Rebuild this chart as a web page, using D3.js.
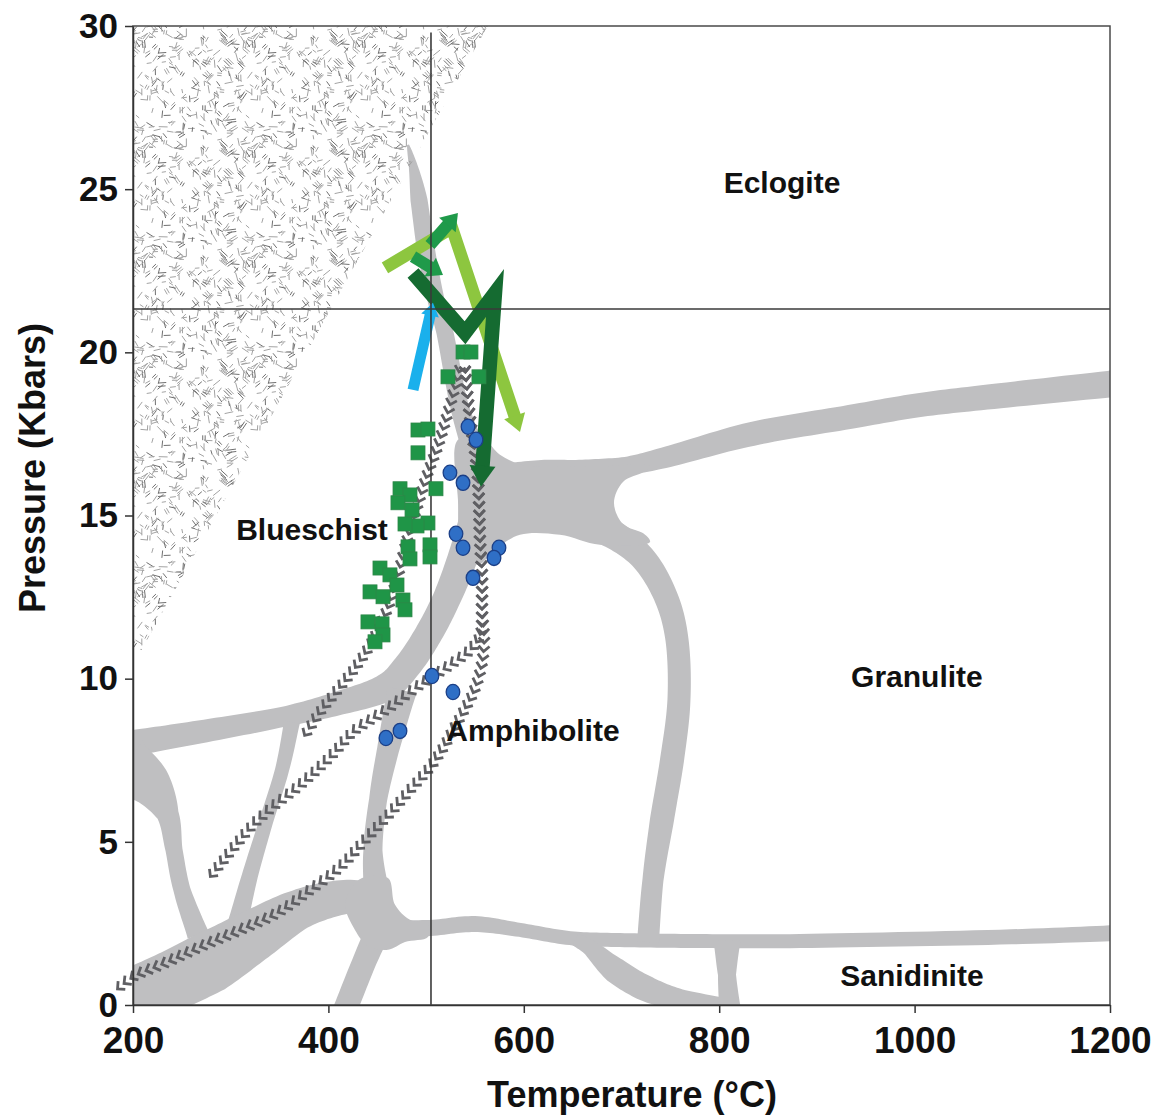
<!DOCTYPE html>
<html>
<head>
<meta charset="utf-8">
<script src="https://cdn.jsdelivr.net/npm/d3@7"></script>
<style>
  body { margin: 0; background: #fff; }
  svg text { font-family: "Liberation Sans", Arial, sans-serif; font-weight: bold; fill: #111; }
</style>
</head>
<body>
<script>
// ------------------------------ DATA ------------------------------ //
const tempTicks = [200, 400, 600, 800, 1000, 1200];
const pressTicks = [0, 5, 10, 15, 20, 25, 30];

// facies boundary bands, centre lines as [T (°C), P (kbar)]
const bandA = [[481.5, 26.36], [487.6, 25.59], [492.7, 24.67], [499.9, 23.14], [510.1, 21.61],
  [519.3, 20.6], [532.6, 18.54], [544.9, 17.32], [555.2, 16.40]];
const bandD = [[553.1, 15.17], [536.7, 13.64], [520.4, 12.41], [501.9, 11.34], [481.5, 10.42],
  [457.9, 9.72], [411.9, 9.26], [353.5, 8.83], [268.6, 8.37], [200, 8.03], [186.7, 7.97]];
const bandLeftArm = [[191.8, 7.26], [217.4, 6.74], [235.8, 5.82], [242.0, 4.75], [250.2, 3.52], [266.6, 2.15]];
const bandRightArm = [[362.7, 8.67], [352.5, 7.20], [336.1, 5.61], [319.8, 3.98], [307.5, 2.54]];
const bandGreenschist = [[475.3, 9.65], [461.0, 7.82], [450.8, 6.28], [445.6, 4.75], [449.0, 3.50]];
const bandLowLeft = [[176.5, 0.0], [227.6, 0.58], [278.8, 1.32], [324.9, 2.15], [370.9, 2.94], [417.0, 3.31], [452.8, 3.22]];
const bandLowDown = [[457.9, 2.76], [437.5, 1.38], [417.0, -0.15]];
const bandLowFlat = [[452.8, 2.30], [504.0, 2.36], [550.0, 2.48], [596.1, 2.30], [647.3, 2.05], [698.4, 1.99],
  [780.3, 1.96], [882.7, 1.96], [1087.4, 2.08], [1210.2, 2.21]];
const bandLens = [[652.4, 2.0], [667.7, 1.75], [693.3, 1.07], [724.0, 0.52], [759.9, 0.15], [811.0, -0.15]];
const bandSanidinite = [[808.0, 1.99], [808.0, 0.92], [811.0, -0.15]];
const bandUpperRight = [[575.6, 16.03], [616.6, 16.27], [657.5, 16.37], [704.6, 16.52], [747.6, 16.80],
  [833.6, 17.50], [933.9, 18.02], [1006.5, 18.39], [1087.4, 18.67], [1210.2, 19.06]];
const bandLoop = [[580.7, 15.33], [626.8, 15.02], [678.0, 14.62], [718.9, 13.79], [744.5, 12.57], [756.8, 11.19],
  [758.8, 9.35], [751.7, 7.51], [741.4, 5.67], [732.2, 3.83], [727.1, 1.93]];
// junction areas where several boundaries meet
const junctionUpper = [[532.6, 17.32], [559.3, 17.32], [575.6, 16.86], [598.1, 16.55], [637.0, 16.49], [675.0, 16.50],
  [729.2, 16.52], [723.0, 16.34], [701.5, 16.03], [692.3, 15.39], [701.5, 14.74], [723.0, 14.44], [729.2, 14.19],
  [678.0, 14.10], [637.0, 14.41], [596.1, 14.41], [570.5, 13.95], [553.1, 13.49], [536.7, 13.95], [532.6, 15.48]];
const junctionLower = [[434.4, 3.89], [461.0, 3.89], [468.2, 3.07], [483.5, 2.61], [501.9, 2.48], [501.9, 2.08],
  [478.4, 1.93], [461.0, 1.69], [440.5, 1.81], [427.2, 2.30], [417.0, 3.07], [424.1, 3.59]];

// "not realized on earth" wedge
const forbiddenZone = [[200, 30], [563, 30], [200, 10.4]];
const refT = 505, refP = 21.33;

// retrograde chevron trails
const trail1 = [[534.7, 19.52], [524.5, 18.39], [512.2, 17.16], [500.9, 16.24], [490.7, 15.26], [480.4, 14.25],
  [471.2, 13.18], [461.0, 12.20], [445.6, 11.19], [429.3, 10.42], [411.9, 9.75], [391.4, 8.98], [374.0, 8.18]];
const trailTop = [[539.8, 19.52], [542.9, 18.54], [547.0, 17.53], [552.1, 16.49], [554.1, 15.48], [555.2, 14.25],
  [557.2, 13.24], [557.2, 12.20]];
const trail2 = trailTop.concat([[555.2, 11.34], [544.9, 10.88], [524.5, 10.42], [504.0, 10.02], [483.5, 9.59],
  [463.0, 9.13], [442.6, 8.73], [425.2, 8.37], [401.6, 7.60], [370.9, 6.74], [345.3, 6.13], [322.8, 5.52],
  [299.3, 4.69], [278.8, 3.92]]);
const trail3 = trailTop.concat([[559.3, 11.03], [555.2, 10.21], [548.0, 9.56], [537.8, 8.98], [527.5, 8.43],
  [517.3, 7.88], [504.0, 7.29], [483.5, 6.59], [463.0, 5.88], [437.5, 5.06], [411.9, 4.23], [381.2, 3.52],
  [347.4, 2.82], [309.5, 2.30], [268.6, 1.78], [232.8, 1.29], [200, 0.86], [179.5, 0.37]]);

// samples
const blueschistSamples = [[537.8, 20.01], [545.9, 20.01], [522.4, 19.25], [554.1, 19.25], [491.7, 17.62],
  [501.9, 17.65], [491.7, 16.92], [473.3, 15.82], [483.5, 15.63], [471.2, 15.39], [510.1, 15.82], [485.6, 15.17],
  [501.9, 14.77], [490.7, 14.68], [478.4, 14.74], [504.0, 14.10], [504.0, 13.73], [481.5, 14.04], [483.5, 13.67],
  [452.8, 13.39], [463.0, 13.18], [470.2, 12.87], [442.6, 12.66], [455.9, 12.51], [476.3, 12.41], [478.4, 12.11],
  [440.5, 11.74], [454.9, 11.68], [455.9, 11.34], [447.7, 11.13]];
const eclogiteSamples = [[542.9, 17.72], [551.1, 17.32], [524.4, 16.31], [537.8, 16.0], [530.6, 14.44],
  [537.8, 14.01], [574.6, 14.01], [569.5, 13.70], [548.0, 13.09], [506.0, 10.08], [527.5, 9.59],
  [473.3, 8.40], [458.9, 8.18]];

// P-T paths
const pathLight = [[457.9, 22.59], [526.5, 23.81], [596.1, 17.56]];
const pathMediumA = [[504.0, 23.29], [532.6, 24.27]];
const pathMediumB = [[486.6, 22.93], [517.3, 22.37]];
const pathDark = [[486.6, 22.43], [539.8, 20.60], [570.5, 21.82], [556.2, 15.88]];
const pathBlue = [[486.6, 18.85], [507.0, 21.52]];

// field names
const fieldNames = ["Eclogite", "Blueschist", "Granulite", "Amphibolite", "Sanidinite"];
const fieldT = [864.3, 383.2, 1002.4, 609.4, 997.3];
const fieldP = [24.89, 14.25, 9.75, 8.09, 0.58];

// --------------------------- PREPARATION --------------------------- //
const W = 1160, H = 1118;
const margin = { top: 26, right: 50, bottom: 113, left: 133 };

const x = d3.scaleLinear().domain([200, 1200]).range([margin.left, W - margin.right]);
const y = d3.scaleLinear().domain([0, 30]).range([H - margin.bottom, margin.top]);

const bandColor = "#bfbfc1";
// band widths in px, one per centre point
const bandStyle = [
  [bandA, [2, 10, 17, 18, 17, 17, 18, 22, 28]],
  [bandD, [32, 30, 28, 28, 28, 28, 24, 20, 23, 26, 26]],
  [bandLeftArm, [66, 44, 22, 17, 17, 22]],
  [bandRightArm, [16, 14, 14, 16, 20]],
  [bandGreenschist, [30, 22, 18, 19, 26]],
  [bandLowLeft, [56, 60, 62, 52, 40, 34, 32]],
  [bandLowDown, [26, 24, 24]],
  [bandLowFlat, [20, 16, 16, 14, 14, 14, 14, 14, 15, 16]],
  [bandLens, [12, 16, 26, 26, 22, 22]],
  [bandSanidinite, [28, 18, 22]],
  [bandUpperRight, [36, 28, 22, 18, 21, 24, 24, 24, 25, 27]],
  [bandLoop, [34, 30, 30, 26, 24, 23, 23, 24, 24, 21, 22]]
];

const svg = d3.select("body").append("svg")
  .attr("width", W)
  .attr("height", H)
  .style("display", "block");

const defs = svg.append("defs");
defs.append("clipPath").attr("id", "plotClip")
  .append("rect")
  .attr("x", x(200)).attr("y", y(30))
  .attr("width", x(1200) - x(200)).attr("height", y(0) - y(30));

// texture of short scattered dashes for the wedge
const tile = 110;
const pat = defs.append("pattern").attr("id", "dashes")
  .attr("patternUnits", "userSpaceOnUse").attr("width", tile).attr("height", tile);
let seed = 23;
const rnd = () => (seed = (seed * 16807) % 2147483647) / 2147483647;
for (let i = 0; i < 250; i++) {
  const cx = rnd() * tile, cy = rnd() * tile;
  const a = Math.floor(rnd() * 4) * Math.PI / 4 + (rnd() - 0.5) * 0.6;
  const l = 4 + rnd() * 5, pair = rnd() < 0.25;
  const col = rnd() < 0.35 ? "#6e6e6e" : "#a2a2a2";
  for (let k = 0; k < (pair ? 2 : 1); k++) {
    const ox = k * 2.4 * -Math.sin(a), oy = k * 2.4 * Math.cos(a);
    [[0, 0], [tile, 0], [-tile, 0], [0, tile], [0, -tile]].forEach(([sx, sy]) => {
      pat.append("line")
        .attr("x1", cx + ox + sx - Math.cos(a) * l / 2).attr("y1", cy + oy + sy - Math.sin(a) * l / 2)
        .attr("x2", cx + ox + sx + Math.cos(a) * l / 2).attr("y2", cy + oy + sy + Math.sin(a) * l / 2)
        .attr("stroke", col)
        .attr("stroke-width", 1);
    });
  }
}

// variable width ribbon along a catmull-rom centre line
function ribbon(pts, ws) {
  const P = pts.map(d => [x(d[0]), y(d[1])]);
  const n = P.length, samp = [], sw = [];
  for (let i = 0; i < n - 1; i++) {
    const p0 = P[Math.max(0, i - 1)], p1 = P[i], p2 = P[i + 1], p3 = P[Math.min(n - 1, i + 2)];
    for (let k = 0; k < 14; k++) {
      const t = k / 14, t2 = t * t, t3 = t2 * t;
      const f = j => 0.5 * (2 * p1[j] + (-p0[j] + p2[j]) * t + (2 * p0[j] - 5 * p1[j] + 4 * p2[j] - p3[j]) * t2
        + (-p0[j] + 3 * p1[j] - 3 * p2[j] + p3[j]) * t3);
      samp.push([f(0), f(1)]);
      sw.push(ws[i] + (ws[i + 1] - ws[i]) * t);
    }
  }
  samp.push(P[n - 1]); sw.push(ws[n - 1]);
  const left = [], right = [];
  samp.forEach((p, i) => {
    const a = samp[Math.max(0, i - 1)], b = samp[Math.min(samp.length - 1, i + 1)];
    const dx = b[0] - a[0], dy = b[1] - a[1];
    const len = Math.hypot(dx, dy) || 1;
    const nx = -dy / len, ny = dx / len, h = sw[i] / 2;
    left.push([p[0] + nx * h, p[1] + ny * h]);
    right.push([p[0] - nx * h, p[1] - ny * h]);
  });
  return left.concat(right.reverse());
}

// ----------------------------- DRAWING ----------------------------- //
svg.append("rect").attr("width", W).attr("height", H).attr("fill", "#fff");

const gBands = svg.append("g").attr("clip-path", "url(#plotClip)");
bandStyle.forEach(([pts, ws]) => {
  gBands.append("path").attr("d", d3.line()(ribbon(pts, ws)) + "Z").attr("fill", bandColor);
});
const blob = d3.line().x(d => x(d[0])).y(d => y(d[1])).curve(d3.curveCatmullRomClosed);
[junctionUpper, junctionLower].forEach(area => {
  gBands.append("path").attr("d", blob(area)).attr("fill", bandColor);
});

// wedge
gBands.append("path")
  .attr("d", d3.line().x(d => x(d[0])).y(d => y(d[1]))(forbiddenZone) + "Z")
  .attr("fill", "url(#dashes)");

// chevron trails
const gTrails = svg.append("g");
const trailLine = d3.line().x(d => x(d[0])).y(d => y(d[1])).curve(d3.curveCatmullRom);
[trail1, trail2, trail3].forEach(tr => {
  const node = gTrails.append("path").attr("d", trailLine(tr)).attr("fill", "none").node();
  const L = node.getTotalLength();
  for (let s = 3; s <= L; s += 8.5) {
    const a = node.getPointAtLength(s);
    const b = node.getPointAtLength(Math.min(L, s + 1.5));
    const c = node.getPointAtLength(Math.max(0, s - 1.5));
    const ang = Math.atan2(b.y - c.y, b.x - c.x) * 180 / Math.PI;
    gTrails.append("path")
      .attr("d", "M-4.5,-5.5L1,0L-4.5,5.5")
      .attr("transform", `translate(${a.x},${a.y}) rotate(${ang})`)
      .attr("fill", "none")
      .attr("stroke", "#5f5f63")
      .attr("stroke-width", 2.8)
      .attr("stroke-linejoin", "miter");
  }
});

// P-T path arrows
const gArrows = svg.append("g");
function arrow(pts, color, w, headL, headW) {
  const P = pts.map(d => [x(d[0]), y(d[1])]);
  const n = P.length, e = P[n - 1], pr = P[n - 2];
  const dx = e[0] - pr[0], dy = e[1] - pr[1], len = Math.hypot(dx, dy);
  const ux = dx / len, uy = dy / len;
  const base = [e[0] - ux * headL, e[1] - uy * headL];
  const shaft = P.slice(0, n - 1).concat([[base[0] + ux * 2, base[1] + uy * 2]]);
  gArrows.append("path")
    .attr("d", d3.line()(shaft))
    .attr("fill", "none")
    .attr("stroke", color)
    .attr("stroke-width", w)
    .attr("stroke-linejoin", "miter")
    .attr("stroke-miterlimit", 10);
  gArrows.append("path")
    .attr("d", d3.line()([e, [base[0] - uy * headW, base[1] + ux * headW], [base[0] + uy * headW, base[1] - ux * headW]]) + "Z")
    .attr("fill", color);
}
arrow(pathLight, "#8dc63f", 12.5, 17, 11);
arrow(pathDark, "#156b31", 14.5, 21, 13);
arrow(pathMediumA, "#1f9a4a", 12, 16, 11);
arrow(pathMediumB, "#1f9a4a", 12, 15, 11);
arrow(pathBlue, "#1ab0ec", 11, 13, 9);

// reference lines
svg.append("line")
  .attr("x1", x(refT)).attr("x2", x(refT))
  .attr("y1", y(29.8)).attr("y2", y(0))
  .attr("stroke", "#3a3a3a").attr("stroke-width", 1.6);
svg.append("line")
  .attr("x1", x(200)).attr("x2", x(1200))
  .attr("y1", y(refP)).attr("y2", y(refP))
  .attr("stroke", "#3a3a3a").attr("stroke-width", 1.6);

// samples
svg.append("g").selectAll("rect")
  .data(blueschistSamples)
  .enter().append("rect")
  .attr("x", d => x(d[0]) - 7)
  .attr("y", d => y(d[1]) - 7)
  .attr("width", 14).attr("height", 14)
  .attr("fill", "#1f9547")
  .attr("stroke", "#2d8748").attr("stroke-width", 0.8);

svg.append("g").selectAll("ellipse")
  .data(eclogiteSamples)
  .enter().append("ellipse")
  .attr("cx", d => x(d[0]))
  .attr("cy", d => y(d[1]))
  .attr("rx", 6.8).attr("ry", 7.6)
  .attr("fill", "#2f6fc6")
  .attr("stroke", "#1b3f87").attr("stroke-width", 1.3);

// frame and axes
svg.append("rect")
  .attr("x", x(200)).attr("y", y(30))
  .attr("width", x(1200) - x(200)).attr("height", y(0) - y(30))
  .attr("fill", "none").attr("stroke", "#4a4a4a").attr("stroke-width", 1.5);

const xAxis = d3.axisBottom(x).tickValues(tempTicks).tickFormat(d3.format("d"))
  .tickSize(8).tickSizeOuter(0).tickPadding(14);
const yAxis = d3.axisLeft(y).tickValues(pressTicks).tickFormat(d3.format("d"))
  .tickSize(8).tickSizeOuter(0).tickPadding(7);

const gx = svg.append("g").attr("transform", `translate(0,${y(0)})`).call(xAxis);
const gy = svg.append("g").attr("transform", `translate(${x(200)},0)`).call(yAxis);
[gx, gy].forEach(g => {
  g.selectAll("path.domain").attr("stroke", "#333").attr("stroke-width", 1.5);
  g.selectAll(".tick line").attr("stroke", "#333").attr("stroke-width", 1.5);
  g.selectAll(".tick text")
    .attr("fill", "#111")
    .style("font-family", '"Liberation Sans", Arial, sans-serif')
    .style("font-weight", "bold");
});
gx.selectAll(".tick text").style("font-size", "37px");
gy.selectAll(".tick text").style("font-size", "35px");

svg.append("text")
  .attr("x", 632).attr("y", 1107)
  .attr("text-anchor", "middle")
  .style("font-size", "36px")
  .text("Temperature (°C)");

svg.append("text")
  .attr("transform", "translate(45,468) rotate(-90)")
  .attr("text-anchor", "middle")
  .style("font-size", "36px")
  .text("Pressure (Kbars)");

svg.append("g").selectAll("text")
  .data(fieldNames)
  .enter().append("text")
  .attr("x", (d, i) => x(fieldT[i]))
  .attr("y", (d, i) => y(fieldP[i]))
  .attr("text-anchor", "middle")
  .style("font-size", "30px")
  .text(d => d);
</script>
</body>
</html>
